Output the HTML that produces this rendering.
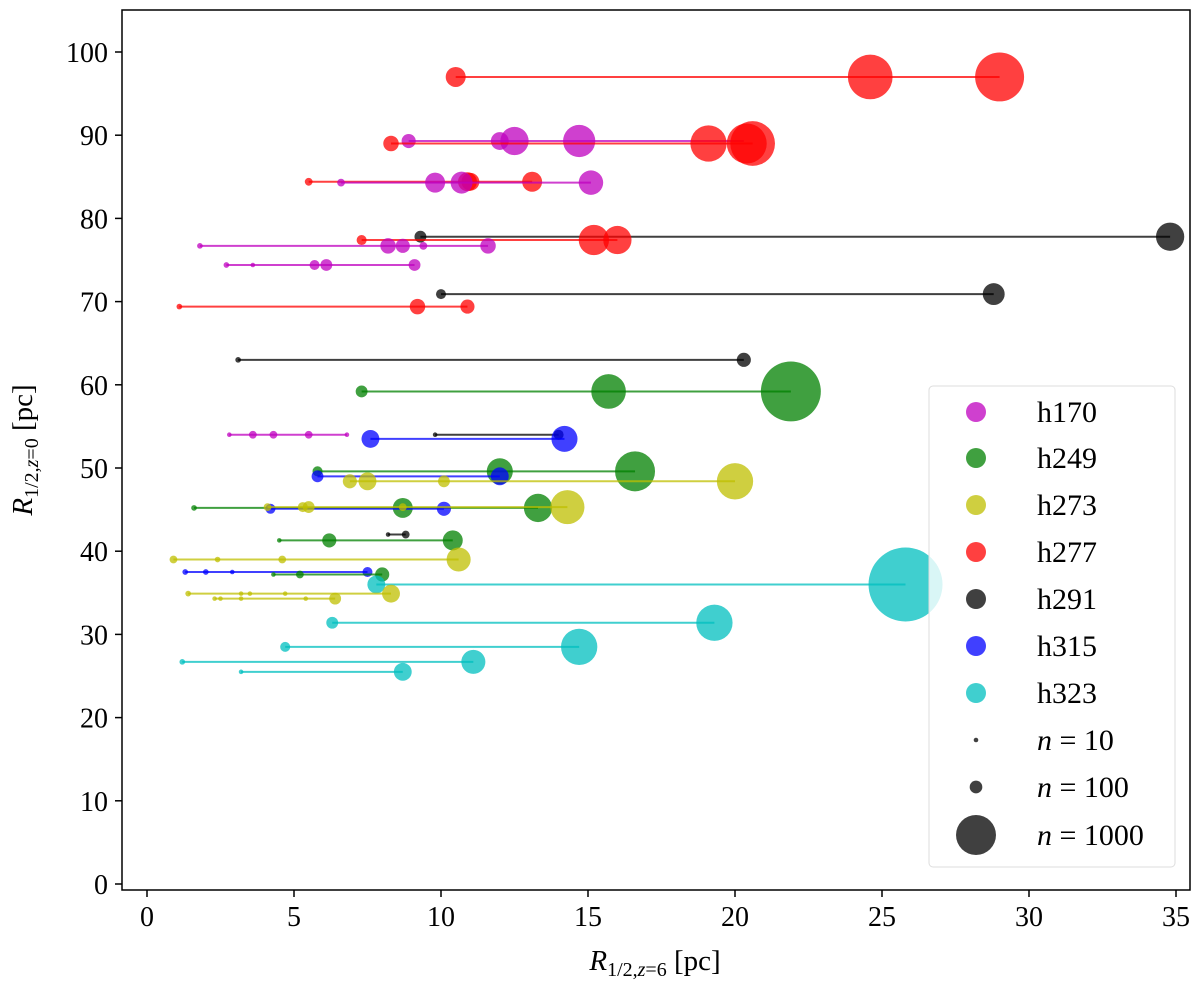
<!DOCTYPE html>
<html><head><meta charset="utf-8"><style>
html,body{margin:0;padding:0;background:#fff}
svg text{font-family:"Liberation Serif","DejaVu Serif",serif;fill:#000}
</style></head><body>
<svg id="chart" width="1200" height="985" viewBox="0 0 1200 985" xmlns="http://www.w3.org/2000/svg">
<rect x="0" y="0" width="1200" height="985" fill="#fff"/>
<g id="marks"></g>
<rect x="122" y="10" width="1068" height="880" fill="none" stroke="#000" stroke-width="1.5"/>
<g id="axes"></g>
<text x="655" y="970" font-size="29" text-anchor="middle"><tspan font-style="italic">R</tspan><tspan font-size="20" dy="6">1/2,</tspan><tspan font-size="20" font-style="italic">z</tspan><tspan font-size="20">=6</tspan><tspan dy="-6"> [pc]</tspan></text>
<text transform="translate(32,450) rotate(-90)" font-size="29" text-anchor="middle"><tspan font-style="italic">R</tspan><tspan font-size="20" dy="6">1/2,</tspan><tspan font-size="20" font-style="italic">z</tspan><tspan font-size="20">=0</tspan><tspan dy="-6"> [pc]</tspan></text>
<g id="legend">
<rect x="929" y="386" width="246" height="481" rx="4" fill="#fff" fill-opacity="0.8" stroke="#ddd" stroke-width="1"/>
</g>
</svg>
<script>
const xTicks=[0,5,10,15,20,25,30,35];
const yTicks=[0,10,20,30,40,50,60,70,80,90,100];
const haloNames=["h170","h249","h273","h277","h291","h315","h323"];
const haloColors=["#bf00bf","#008000","#bfbf00","#ff0000","#000000","#0000ff","#00bfbf"];
const trackHalo=["h277","h170","h277","h277","h170","h291","h277","h170","h170","h291","h277","h291","h249","h170","h291","h315","h249","h315","h273","h249","h315","h273","h291","h249","h273","h315","h249","h323","h273","h273","h323","h323","h323","h323"];
const trackY=[97,89.3,89,84.4,84.3,77.8,77.4,76.7,74.4,70.9,69.4,63,59.2,54,54,53.5,49.6,49,48.4,45.2,45.1,45.3,42,41.3,39,37.5,37.2,36,34.9,34.3,31.4,28.5,26.7,25.5];
const trackX=[[10.5,24.6,29],[8.9,12,12.5,14.7,20.3],[8.3,19.1,20.4,20.6],[5.5,10.9,11,13.1],[6.6,9.8,10.7,15.1],[9.3,34.8],[7.3,15.2,16],[1.8,8.2,8.7,9.4,11.6],[2.7,3.6,5.7,6.1,9.1],[10,28.8],[1.1,9.2,10.9],[3.1,20.3],[7.3,15.7,21.9],[2.8,3.6,4.3,5.5,6.8],[9.8,14],[7.6,14.2],[5.8,12,16.6],[5.8,12],[6.9,7.5,10.1,20],[1.6,8.7,13.3],[4.2,10.1],[4.1,5.3,5.5,8.7,14.3],[8.2,8.8],[4.5,6.2,10.4],[0.9,2.4,4.6,10.6],[1.3,2,2.9,7.5],[4.3,5.2,8],[7.8,25.8],[1.4,3.2,3.5,4.7,8.3],[2.3,2.5,3.2,5.4,6.4],[6.3,19.3],[4.7,14.7],[1.2,11.1],[3.2,8.7]];
const trackN=[[250,1250,1500],[125,200,500,650,0],[150,825,1000,1250],[38,225,200,250],[38,250,300,375],[88,500],[63,575,500],[20,150,125,38,150],[20,13,63,88,88],[63,300],[20,150,125],[20,125],[88,750,2250],[13,38,38,38,13],[13,63],[200,425],[63,425,1000],[88,200],[125,200,88,825],[20,250,500],[63,125],[38,63,88,38,725],[13,38],[13,125,250],[38,20,38,363],[20,20,13,63],[13,38,125],[200,3425],[20,13,13,13,200],[13,13,13,13,88],[88,825],[63,825],[20,363],[13,200]];
const nLeg=[10,100,1000];
const X=v=>147+v*29.4, Y=v=>884-v*8.32;
const R=n=>n<=0?0:Math.max(2.3,Math.sqrt(n)*0.632);
const NS="http://www.w3.org/2000/svg";
function mk(t,a,p){const e=document.createElementNS(NS,t);for(const k in a)e.setAttribute(k,a[k]);p.appendChild(e);return e;}
const axes=document.getElementById('axes');
xTicks.forEach(t=>{
  const l=mk('line',{x1:X(t),x2:X(t),y1:890,y2:897,stroke:'#000','stroke-width':1.5},axes);
  
  
  const tx=mk('text',{x:X(t),y:926,'font-size':28,'text-anchor':'middle'},axes);tx.textContent=t;
  
  
});
yTicks.forEach(t=>{
  const l=mk('line',{x1:115,x2:122,y1:Y(t),y2:Y(t),stroke:'#000','stroke-width':1.5},axes);
  
  
  const tx=mk('text',{x:108,y:Y(t)+10,'font-size':28,'text-anchor':'end'},axes);tx.textContent=t;
  
  
});
const marks=document.getElementById('marks');
trackY.forEach((yv,i)=>{
  const col=haloColors[haloNames.indexOf(trackHalo[i])];
  const xs=trackX[i];
  const g=mk('g',{},marks);
  
  
  const ln=mk('line',{x1:X(Math.min(...xs)),x2:X(Math.max(...xs)),y1:Y(yv),y2:Y(yv),stroke:col,'stroke-width':2,'stroke-opacity':0.75},g);
  
  
  xs.forEach((xv,j)=>{
    const r=R(trackN[i][j]); if(!r) return;
    const c=mk('circle',{cx:X(xv),cy:Y(yv),r:r,fill:col,'fill-opacity':0.75},g);
    
    
  });
});
const leg=document.getElementById('legend');
const legY=[412,458,505,552,599,646,693,740,787,835];
haloNames.forEach((h,i)=>{
  const c=mk('circle',{cx:976,cy:legY[i],r:10,fill:haloColors[i],'fill-opacity':0.75},leg);
  
  
  const t=mk('text',{x:1037,y:legY[i]+10,'font-size':30},leg);t.textContent=h;
  
  
});
nLeg.forEach((n,k)=>{
  const i=7+k;
  const c=mk('circle',{cx:976,cy:legY[i],r:R(n),fill:'#000','fill-opacity':0.75},leg);
  
  
  const t=mk('text',{x:1037,y:legY[i]+10,'font-size':30},leg);
  t.innerHTML='<tspan font-style="italic">n</tspan> = '+n;
  
  
});
</script>
</body></html>
